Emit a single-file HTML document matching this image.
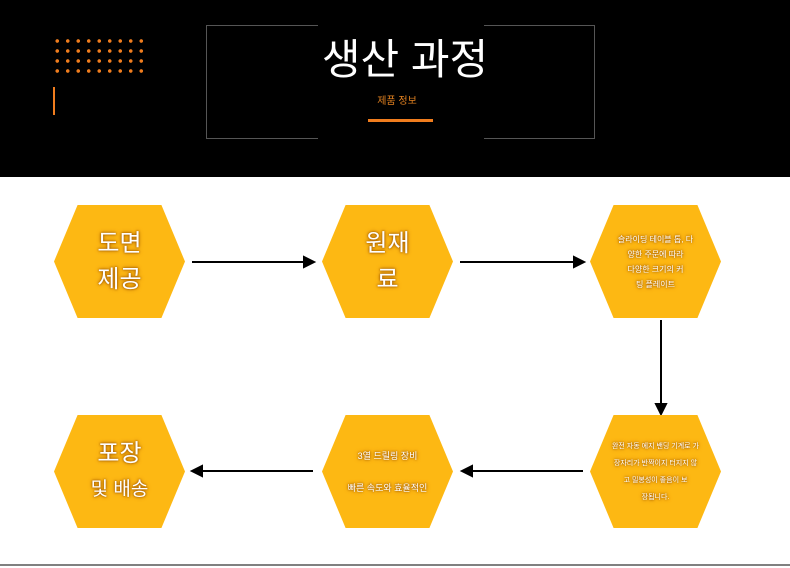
<!DOCTYPE html><html><head><meta charset="utf-8"><style>
body{margin:0;width:790px;height:568px;background:#fff;position:relative;overflow:hidden;font-family:"Liberation Sans","Noto Sans CJK KR",sans-serif}
.hdr{position:absolute;left:0;top:0;width:790px;height:177px;background:#000}
.hex{position:absolute;box-sizing:border-box;width:131px;height:113px;background:#fdb813;clip-path:polygon(18% 0,82% 0,100% 50%,82% 100%,18% 100%,0 50%);display:flex;align-items:center;justify-content:center;text-align:center;color:#fff;text-shadow:0 0 4px #b06000,0 0 2px #804000}
.big{font-size:24px;line-height:36px}
.sm{font-size:8px;line-height:15px;padding:0 6px}
</style></head><body>
<div class="hdr"></div>
<svg style="position:absolute;left:0;top:0" width="790" height="568">
<rect x="53" y="87" width="2" height="28" fill="#f07d1e"/>
<rect x="206.5" y="25.5" width="388" height="113" fill="none" stroke="#555" stroke-width="1"/>
<rect x="318" y="20" width="166" height="124" fill="#000"/>
<text x="405" y="74" font-size="42" fill="#fff" text-anchor="middle" font-family="Liberation Sans, Noto Sans CJK KR, sans-serif">생산 과정</text>
<text x="397" y="104" font-size="10" fill="#e08020" text-anchor="middle" font-family="Liberation Sans, Noto Sans CJK KR, sans-serif">제품 정보</text>
<rect x="368" y="119" width="65" height="3" fill="#f07d1e"/>
<g stroke="#000" stroke-width="2" fill="#000">
<line x1="192" y1="262" x2="306" y2="262"/><polygon points="314,262 304,257 304,267"/>
<line x1="460" y1="262" x2="576" y2="262"/><polygon points="584,262 574,257 574,267"/>
<line x1="661" y1="320" x2="661" y2="405"/><polygon points="661,414 656,404 666,404"/>
<line x1="583" y1="471" x2="470" y2="471"/><polygon points="462,471 472,466 472,476"/>
<line x1="313" y1="471" x2="200" y2="471"/><polygon points="192,471 202,466 202,476"/>
</g>
<line x1="0" y1="565" x2="790" y2="565" stroke="#000" stroke-width="1"/>
</svg>
<div style="position:absolute;left:52px;top:36px;width:96px;height:40px;background-image:radial-gradient(circle,#f07d1e 1.6px,transparent 2px);background-size:10.5px 10px"></div>
<div class="hex big" style="left:54px;top:205px">도면<br>제공</div>
<div class="hex big" style="left:322px;top:205px">원재<br>료</div>
<div class="hex sm" style="left:590px;top:205px"><div>슬라이딩 테이블 톱, 다<br>양한 주문에 따라<br>다양한 크기의 커<br>팅 플레이트</div></div>
<div class="hex" style="left:54px;top:415px"><div style="font-size:24px;line-height:34px">포장<br><span style="font-size:19px">및 배송</span></div></div>
<div class="hex" style="left:322px;top:415px;font-size:9px;line-height:32px"><div>3열 드릴링 장비<br>빠른 속도와 효율적인</div></div>
<div class="hex sm" style="left:590px;top:415px;font-size:7px;line-height:17px"><div>완전 자동 에지 밴딩 기계로 가<br>장자리가 반짝이지 터지지 않<br>고 밀봉성이 좋음이 보<br>장됩니다.</div></div>
</body></html>
